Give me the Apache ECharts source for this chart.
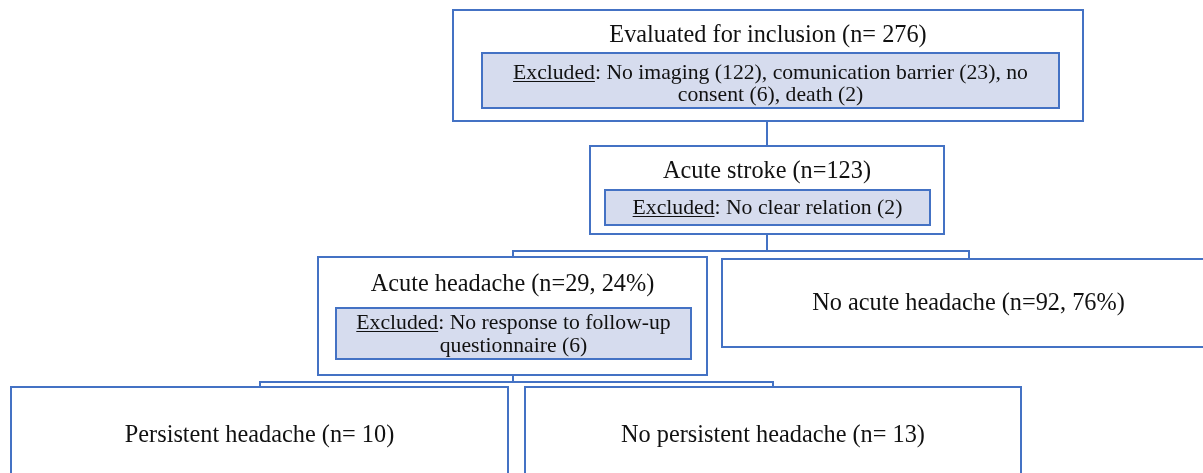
<!DOCTYPE html>
<html><head><meta charset="utf-8">
<script src="https://cdn.jsdelivr.net/npm/echarts@6/dist/echarts.min.js"></script>
<style>html,body{margin:0;padding:0;background:#fff}#c{width:1203px;height:473px}</style>
</head><body><div id="c"></div>
<script>
// ---- content ----
const boxLabels = [
  'Evaluated for inclusion (n= 276)',
  'Acute stroke (n=123)',
  'Acute headache (n=29, 24%)',
  'No acute headache (n=92, 76%)',
  'Persistent headache (n= 10)',
  'No persistent headache (n= 13)'
];
const exclusionTag = 'Excluded';
const exclusionLines = [
  ['No imaging (122), comunication barrier (23), no', 'consent (6), death (2)'],
  ['No clear relation (2)'],
  ['No response to follow-up', 'questionnaire (6)'],
  [], [], []
];
// ---- layout (pixel plane of the hidden axes) ----
const boxRects = [[453,10,1083,121],[590,146,944,234],[318,257,707,375],[722,259,1215,347],[11,387,508,490],[525,387,1021,490]];
const innerRects = [[482,53,1059,108],[605,190,930,225],[336,308,691,359],null,null,null];
const titleY = [36,172,285,304,435,435];
const innerLineY = [[73,95],[208],[323,346],[],[],[]];
const titleSize = [24.3,24.3,24.3,24.3,25.5,25.5];
const titleScaleX = [1,1,1,1,0.953,0.953];
const connectors = [
  [[767,121],[767,146]],
  [[767,234],[767,251]],
  [[513,257],[513,251],[969,251],[969,259]],
  [[513,375],[513,382]],
  [[260,387],[260,382],[773,382],[773,387]]
];
const BLUE = '#4472C4', FILL = '#D6DCEE', INK = '#111';
const FONT = '"Liberation Serif", "Times New Roman", serif';
const INNER_SIZE = 21.7;

const mctx = document.createElement('canvas').getContext('2d');
function tw(t, s){ mctx.font = s + 'px ' + FONT; return mctx.measureText(t).width; }

const chart = echarts.init(document.getElementById('c'), null, {renderer:'canvas'});
chart.setOption({
  animation:false,
  grid:{left:0,right:0,top:0,bottom:0},
  xAxis:{type:'value',min:0,max:1203,show:false},
  yAxis:{type:'value',min:0,max:473,inverse:true,show:false},
  series:[
    {
      type:'lines', coordinateSystem:'cartesian2d', polyline:true, silent:true,
      lineStyle:{color:BLUE,width:2,opacity:1},
      data: connectors.map(c=>({coords:c}))
    },
    {
      type:'custom', coordinateSystem:'cartesian2d', clip:false, silent:true,
      data: boxLabels.map((l,i)=>[i]),
      renderItem:function(params, api){
        const i = api.value(0);
        const r = boxRects[i];
        const p0 = api.coord([r[0],r[1]]), p1 = api.coord([r[2],r[3]]);
        const cx = (p0[0]+p1[0])/2;
        const ty = api.coord([0,titleY[i]])[1];
        const children = [{
          type:'rect', shape:{x:p0[0],y:p0[1],width:p1[0]-p0[0],height:p1[1]-p0[1]},
          style:{fill:'#fff',stroke:BLUE,lineWidth:2}
        },{
          type:'text', x:cx, y:ty, scaleX:titleScaleX[i],
          style:{text:boxLabels[i], x:0, y:0, align:'center', verticalAlign:'middle', font:titleSize[i]+'px '+FONT, fill:INK}
        }];
        const ir = innerRects[i];
        if (ir){
          const q0 = api.coord([ir[0],ir[1]]), q1 = api.coord([ir[2],ir[3]]);
          const icx = (q0[0]+q1[0])/2;
          children.push({type:'rect', shape:{x:q0[0],y:q0[1],width:q1[0]-q0[0],height:q1[1]-q0[1]}, style:{fill:FILL,stroke:BLUE,lineWidth:2}});
          exclusionLines[i].forEach((line,k)=>{
            const y = api.coord([0,innerLineY[i][k]])[1];
            if (k===0){
              const rest = ': ' + line;
              const wTag = tw(exclusionTag, INNER_SIZE), wAll = tw(exclusionTag+rest, INNER_SIZE);
              const x0 = icx - wAll/2;
              children.push({type:'text', style:{text:exclusionTag, x:x0, y:y, align:'left', verticalAlign:'middle', font:INNER_SIZE+'px '+FONT, fill:INK}});
              children.push({type:'line', shape:{x1:x0,y1:y+8.5,x2:x0+wTag,y2:y+8.5}, style:{stroke:INK,lineWidth:1}});
              children.push({type:'text', style:{text:rest, x:x0+wTag, y:y, align:'left', verticalAlign:'middle', font:INNER_SIZE+'px '+FONT, fill:INK}});
            } else {
              children.push({type:'text', style:{text:line, x:icx, y:y, align:'center', verticalAlign:'middle', font:INNER_SIZE+'px '+FONT, fill:INK}});
            }
          });
        }
        return {type:'group', children:children};
      }
    }
  ]
});
</script></body></html>
